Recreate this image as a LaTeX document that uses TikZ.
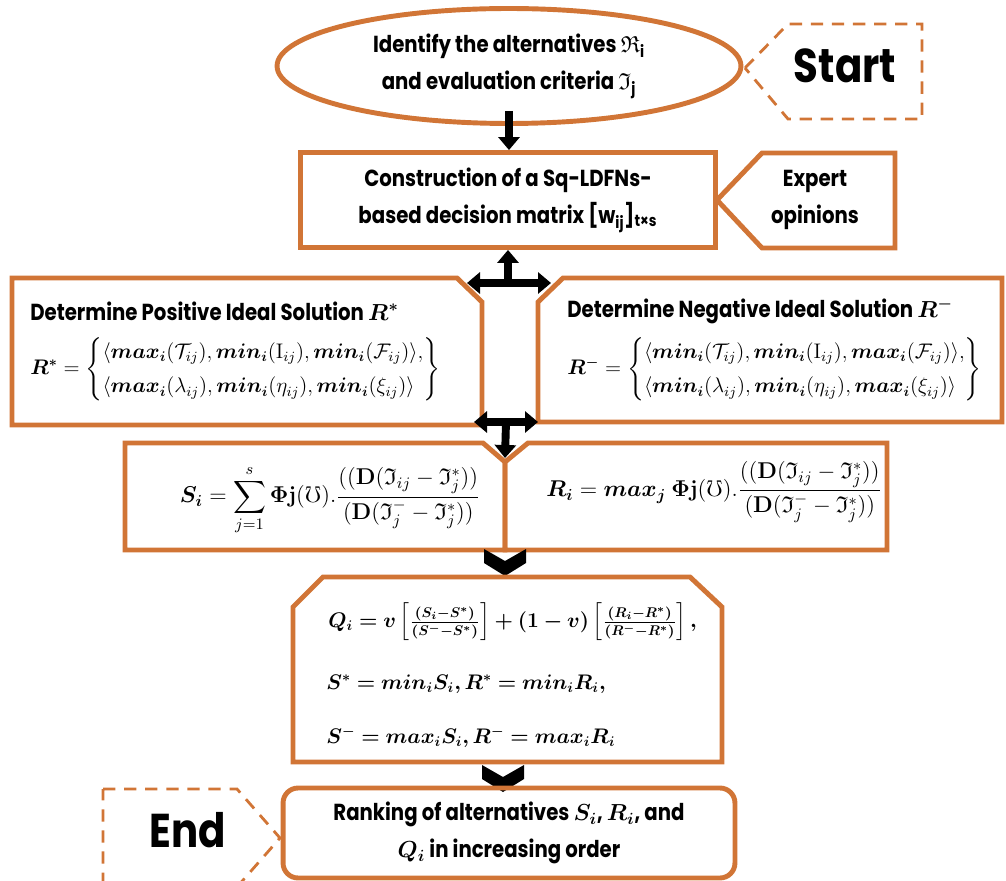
\documentclass[tikz,border=0pt]{standalone}
\usepackage{fix-cm}
\usepackage{amsmath,amssymb,bm}
\usepackage[no-math]{fontspec}
\setmainfont{Poppins}[FakeStretch=0.85]
\usetikzlibrary{arrows.meta,shapes.geometric}
\definecolor{burnt}{RGB}{209,117,54}

\begin{document}
\begin{tikzpicture}[x=0.02cm, y=-0.02cm,
  every node/.style={inner sep=0pt, align=center},
  frame/.style={draw=burnt, line width=2.8pt, line join=miter},
  dframe/.style={draw=burnt, line width=1.6pt, dash pattern=on 7pt off 5pt},
  lbl/.style={font=\fontsize{13.2}{21}\selectfont\bfseries},
  big/.style={font=\fontsize{27}{30}\selectfont\bfseries},
  eq/.style={font=\fontsize{12}{15}\selectfont},
  bigeq/.style={font=\fontsize{13}{16}\selectfont},
  blk/.style={line width=4.5pt, -{Triangle[width=0.42cm,length=0.26cm]}},
  dblk/.style={line width=4.5pt, {Triangle[width=0.42cm,length=0.26cm]}-{Triangle[width=0.42cm,length=0.26cm]}},
  chevron/.pic={\fill (-21,0) -- (0,12) -- (21,0) -- (21,14) -- (0,27) -- (-21,14) -- cycle;}
]
  \clip (0,0) rectangle (1006,881);

  % start / identify
  \node[frame, ellipse, minimum width=9.28cm, minimum height=2.3cm, lbl] (ident) at (509,66)
    {Identify the alternatives $\mathfrak{R}$\textsubscript{i}\\and evaluation criteria $\mathfrak{I}$\textsubscript{j}};
  \draw[dframe] (745,68) -- (788,24) -- (922,24) -- (922,119) -- (788,119) -- cycle;
  \node[big] (start) at (845,66) {Start};

  % decision matrix
  \node[frame, minimum width=8.3cm, minimum height=1.9cm, lbl] (constr) at (508,200)
    {Construction of a Sq-LDFNs-\\based decision matrix [w\textsubscript{ij}]\textsubscript{t×s}};
  \draw[frame] (717,200) -- (762,153) -- (895,153) -- (895,248) -- (762,248) -- cycle;
  \node[lbl] (expert) at (815,200) {Expert\\opinions};

  \draw[blk] ([yshift=0.3cm]ident.south) -- (ident.south |- constr.north);

  % ideal solutions
  \draw[frame] (12,278) -- (457,278) -- (482,302) -- (482,425) -- (12,425) -- cycle;
  \draw[frame] (563,278) -- (1002,278) -- (1002,422) -- (538,422) -- (538,302) -- cycle;
  \node[lbl, anchor=west] (poshead) at (30,311) {Determine Positive Ideal Solution $\bm{R^{*}}$};
  \node[eq, anchor=west] (poseq) at (30,369)
    {$\def\arraystretch{1.3}\bm{R^{*}} = \left\{\begin{array}{@{}l@{}}
      \langle \bm{max_i}(\mathcal{T}_{ij}), \bm{min_i}(\mathrm{I}_{ij}), \bm{min_i}(\mathcal{F}_{ij})\rangle,\\
      \langle \bm{max_i}(\lambda_{ij}), \bm{min_i}(\eta_{ij}), \bm{min_i}(\xi_{ij})\rangle
    \end{array}\right\}$};
  \node[lbl, anchor=west] (neghead) at (567,311) {Determine Negative Ideal Solution $\bm{R^{-}}$};
  \node[eq, anchor=west] (negeq) at (567,369)
    {$\def\arraystretch{1.3}\bm{R^{-}} = \left\{\begin{array}{@{}l@{}}
      \langle \bm{min_i}(\mathcal{T}_{ij}), \bm{min_i}(\mathrm{I}_{ij}), \bm{max_i}(\mathcal{F}_{ij})\rangle,\\
      \langle \bm{min_i}(\lambda_{ij}), \bm{min_i}(\eta_{ij}), \bm{max_i}(\xi_{ij})\rangle
    \end{array}\right\}$};

  \coordinate (fork1) at (508,283);
  \coordinate (f1l) at (467,283);
  \coordinate (f1r) at (551,283);
  \draw[blk] (fork1) -- (constr.south);
  \draw[dblk] (f1l) -- (f1r);

  % S_i and R_i
  \draw[frame] (125,443) -- (483,443) -- (505,462) -- (505,550) -- (125,550) -- cycle;
  \draw[frame] (505,462) -- (528,443) -- (887,443) -- (887,550) -- (505,550) -- cycle;
  \node[bigeq] (seq) at (330,500)
    {$\displaystyle \bm{S_i} = \sum_{j=1}^{s} \bm{\Phi}\mathbf{j}(\mho).\frac{((\mathbf{D}(\mathfrak{I}_{ij}-\mathfrak{I}^{*}_{j}))}{(\mathbf{D}(\mathfrak{I}^{-}_{j}-\mathfrak{I}^{*}_{j}))}$};
  \node[bigeq] (req) at (714,492)
    {$\displaystyle \bm{R_i} = \bm{max_j}\ \bm{\Phi}\mathbf{j}(\mho).\frac{((\mathbf{D}(\mathfrak{I}_{ij}-\mathfrak{I}^{*}_{j}))}{(\mathbf{D}(\mathfrak{I}^{-}_{j}-\mathfrak{I}^{*}_{j}))}$};

  \coordinate (fork2) at (506,422);
  \coordinate (f2l) at (474,422);
  \coordinate (f2r) at (538,422);
  \coordinate (notch) at (505,458);
  \draw[dblk] (f2l) -- (f2r);
  \draw[blk] (fork2) -- (notch);

  % Q_i
  \pic at (505,549) {chevron};
  \draw[frame] (323,577) -- (690,577) -- (722,607) -- (722,762) -- (293,762) -- (293,607) -- cycle;
  \node[eq, anchor=west] (qa) at (328,622)
    {$\bm{Q_i = v\left[\frac{(S_i - S^{*})}{(S^{-} - S^{*})}\right] + (1 - v)\left[\frac{(R_i - R^{*})}{(R^{-} - R^{*})}\right],}$};
  \node[eq, anchor=west] (qb) at (326,684) {$\bm{S^{*} = min_i S_i, R^{*} = min_i R_i,}$};
  \node[eq, anchor=west] (qc) at (326,737) {$\bm{S^{-} = max_i S_i, R^{-} = max_i R_i}$};

  % ranking
  \pic at (503,765) {chevron};
  \node[frame, rounded corners=0.3cm, minimum width=9.04cm, minimum height=1.8cm, lbl] (rank) at (509,833)
    {Ranking of alternatives $\bm{S_i}$, $\bm{R_i}$, and\\$\bm{Q_i}$ in increasing order};
  \draw[dframe] (103,789) -- (237,789) -- (280,838) -- (237,887) -- (103,887) -- cycle;
  \node[big] (endlbl) at (188,830) {End};
\end{tikzpicture}
\end{document}
